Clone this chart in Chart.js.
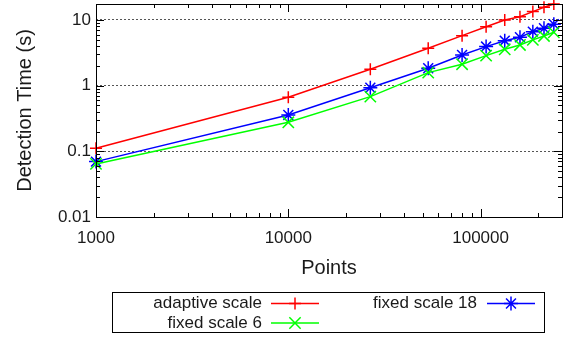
<!DOCTYPE html>
<html>
<head>
<meta charset="utf-8">
<script src="https://cdn.jsdelivr.net/npm/chart.js@4.4.0/dist/chart.umd.min.js"></script>
<style>
  html, body { margin: 0; padding: 0; background: #fff; }
  canvas { display: block; }
</style>
</head>
<body>
<canvas id="myChart" width="570" height="338"></canvas>
<script>
const points = [1000, 10000, 26700, 53400, 80100, 106800, 133500, 160200, 186900, 213600, 240300]
const adaptiveScale = [0.111, 0.666, 1.78, 3.71, 5.77, 7.9, 10.0, 11.2, 13.4, 15.6, 17.5]
const fixedScale6 = [0.0643, 0.277, 0.68, 1.58, 2.12, 2.86, 3.58, 4.16, 4.97, 5.71, 6.5]
const fixedScale18 = [0.0697, 0.358, 0.93, 1.84, 2.93, 3.93, 4.84, 5.45, 6.64, 7.48, 8.6]
const xTickLabels = [1000, 10000, 100000]
const yTickLabels = [0.01, 0.1, 1, 10]

const FONT = "'Liberation Sans', Arial, sans-serif"
const TEXT = '#1a1a1a'

const toXY = (ys) => points.map((x, i) => ({ x: x, y: ys[i] }))

// frame, inward ticks (major + minor) on all four sides
const framePlugin = {
  id: 'frame',
  afterDatasetsDraw(chart) {
    const { ctx, chartArea: a, scales } = chart
    const xs = scales.x, ys = scales.y
    ctx.save()
    ctx.strokeStyle = '#000'
    ctx.lineWidth = 1
    ctx.beginPath()
    // y ticks
    for (let d = -2; d <= 1; d++) {
      for (let k = 1; k <= 9; k++) {
        const v = k * Math.pow(10, d)
        if (v < ys.min || v > ys.max) continue
        const py = Math.round(ys.getPixelForValue(v)) + 0.5
        const len = k === 1 ? 8 : 4
        ctx.moveTo(a.left, py); ctx.lineTo(a.left + len, py)
        ctx.moveTo(a.right, py); ctx.lineTo(a.right - len, py)
      }
    }
    // x ticks
    for (let d = 3; d <= 5; d++) {
      for (let k = 1; k <= 9; k++) {
        const v = k * Math.pow(10, d)
        if (v < xs.min || v > xs.max) continue
        const px = Math.round(xs.getPixelForValue(v)) + 0.5
        const len = k === 1 ? 8 : 4
        ctx.moveTo(px, a.bottom); ctx.lineTo(px, a.bottom - len)
        ctx.moveTo(px, a.top); ctx.lineTo(px, a.top + len)
      }
    }
    ctx.stroke()
    ctx.strokeRect(Math.round(a.left) + 0.5, Math.round(a.top) + 0.5,
      Math.round(a.right - a.left), Math.round(a.bottom - a.top))
    ctx.restore()
  }
}

// gnuplot style key: text right-aligned, sample on the right
const keyPlugin = {
  id: 'key',
  afterDraw(chart) {
    const { ctx } = chart
    const ds = chart.data.datasets
    const slots = [
      { i: 0, tx: 262, y: 303.5, x0: 271, x1: 319 },
      { i: 2, tx: 477, y: 303.5, x0: 487, x1: 535 },
      { i: 1, tx: 262, y: 323, x0: 271, x1: 319 }
    ]
    ctx.save()
    ctx.strokeStyle = '#000'
    ctx.lineWidth = 1
    ctx.strokeRect(112.5, 292.5, 432, 40)
    ctx.font = '17px ' + FONT
    ctx.fillStyle = TEXT
    ctx.textAlign = 'right'
    ctx.textBaseline = 'middle'
    slots.forEach((s) => {
      const d = ds[s.i]
      ctx.fillText(d.label, s.tx, s.y)
      ctx.strokeStyle = d.borderColor
      ctx.lineWidth = 1.5
      ctx.beginPath()
      ctx.moveTo(s.x0, s.y); ctx.lineTo(s.x1, s.y)
      ctx.stroke()
      Chart.helpers.drawPoint(ctx, {
        pointStyle: d.pointStyle, radius: d.pointRadius, borderWidth: 1.5
      }, (s.x0 + s.x1) / 2, s.y)
    })
    ctx.restore()
  }
}

window.onload = () => {
  const ctx = document.getElementById('myChart')

  new Chart(ctx, {
    type: 'line',
    data: {
      datasets: [
        {
          label: 'adaptive scale',
          data: toXY(adaptiveScale),
          borderColor: '#ff0000',
          backgroundColor: '#ff0000',
          pointStyle: 'cross',
          pointRadius: 6,
          pointBorderWidth: 1.5,
          borderWidth: 1.5,
          clip: false
        },
        {
          label: 'fixed scale 6',
          data: toXY(fixedScale6),
          borderColor: '#00ff00',
          backgroundColor: '#00ff00',
          pointStyle: 'crossRot',
          pointRadius: 8,
          pointBorderWidth: 1.5,
          borderWidth: 1.5,
          clip: false
        },
        {
          label: 'fixed scale 18',
          data: toXY(fixedScale18),
          borderColor: '#0000ff',
          backgroundColor: '#0000ff',
          pointStyle: 'star',
          pointRadius: 7,
          pointBorderWidth: 1.5,
          borderWidth: 1.5,
          clip: false
        }
      ]
    },
    options: {
      responsive: false,
      animation: false,
      layout: { autoPadding: false, padding: { left: 0, right: 8, top: 4, bottom: 0 } },
      plugins: {
        legend: { display: false },
        tooltip: { enabled: false }
      },
      scales: {
        x: {
          type: 'logarithmic',
          min: 1000,
          max: 265000,
          afterBuildTicks: (s) => { s.ticks = xTickLabels.map((v) => ({ value: v })) },
          afterFit: (s) => { s.height = 121; s.paddingLeft = 0; s.paddingRight = 0 },
          grid: { display: false, drawTicks: false },
          border: { display: false },
          ticks: {
            autoSkip: false,
            maxRotation: 0,
            padding: 11,
            color: TEXT,
            font: { size: 17, family: FONT },
            callback: (v) => String(v)
          },
          title: {
            display: true,
            text: 'Points',
            color: TEXT,
            font: { size: 20, family: FONT },
            padding: { top: 0, bottom: 58 }
          }
        },
        y: {
          type: 'logarithmic',
          min: 0.01,
          max: 17.5,
          afterBuildTicks: (s) => { s.ticks = yTickLabels.map((v) => ({ value: v })) },
          afterFit: (s) => { s.width = 96; s.paddingTop = 0; s.paddingBottom = 0 },
          grid: { color: '#555', lineWidth: 1, drawTicks: false },
          border: { display: false, dash: [2, 2] },
          ticks: {
            autoSkip: false,
            padding: 5,
            color: TEXT,
            font: { size: 17, family: FONT },
            callback: (v) => String(v)
          },
          title: {
            display: true,
            text: 'Detection Time (s)',
            color: TEXT,
            font: { size: 20, family: FONT },
            padding: { top: 13, bottom: 0 }
          }
        }
      }
    },
    plugins: [framePlugin, keyPlugin]
  })
}
</script>
</body>
</html>
